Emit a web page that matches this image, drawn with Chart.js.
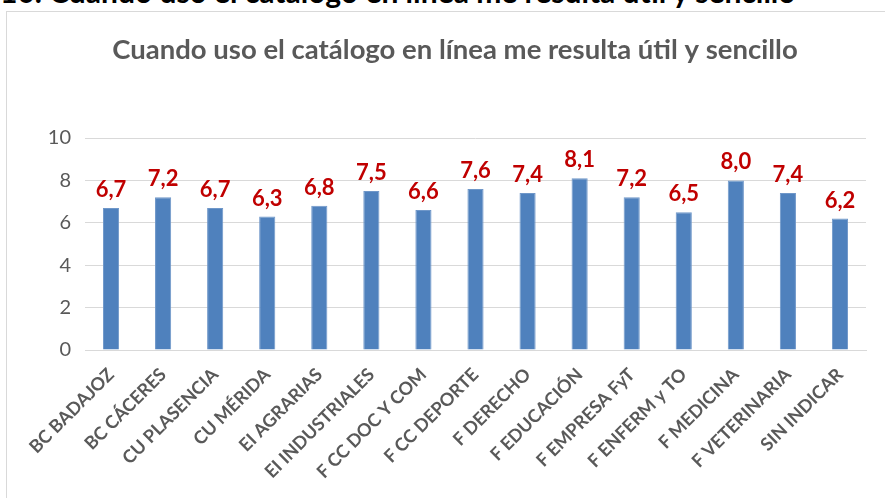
<!DOCTYPE html>
<html>
<head>
<meta charset="utf-8">
<script src="https://cdn.jsdelivr.net/npm/chart.js@4"></script>
<style>
  body { margin:0; width:885px; height:498px; overflow:hidden; background:#fff; position:relative; font-family:Lato, sans-serif; }
  #head { position:absolute; left:0; top:-24px; font:bold 30px Lato, sans-serif; line-height:30px; color:#000; white-space:nowrap; }
  #box { position:absolute; left:6px; top:11px; width:900px; height:500px; border:1px solid #d9d9d9; box-sizing:border-box; }
  #wrap { position:absolute; left:0; top:0; width:885px; height:498px; }
</style>
</head>
<body>
<div id="head">10. Cuando uso el catálogo en línea me resulta útil y sencillo</div>
<div id="box"></div>
<div id="wrap"><canvas id="chart1"></canvas></div>
<script>
var categorias = ['BC BADAJOZ','BC CÁCERES','CU PLASENCIA','CU MÉRIDA','EI AGRARIAS','EI INDUSTRIALES','F CC DOC Y COM','F CC DEPORTE','F DERECHO','F EDUCACIÓN','F EMPRESA FyT','F ENFERM y TO','F MEDICINA','F VETERINARIA','SIN INDICAR'];
var valores = [6.7, 7.2, 6.7, 6.3, 6.8, 7.5, 6.6, 7.6, 7.4, 8.1, 7.2, 6.5, 8.0, 7.4, 6.2];
var titulo = 'Cuando uso el catálogo en línea me resulta útil y sencillo';

var etiquetas = {
  id: 'etiquetas',
  afterDatasetsDraw(chart) {
    var ctx = chart.ctx;
    var meta = chart.getDatasetMeta(0);
    ctx.save();
    ctx.fillStyle = '#C00000';
    ctx.font = 'bold 22px Lato, sans-serif';
    ctx.textAlign = 'center';
    ctx.textBaseline = 'middle';
    meta.data.forEach(function(bar, i) {
      ctx.fillText(valores[i].toFixed(1).replace('.', ','), bar.x, bar.y - 18);
    });
    ctx.restore();
  }
};

new Chart(document.querySelector('#chart1'), {
  type: 'bar',
  data: {
    labels: categorias,
    datasets: [{
      data: valores,
      backgroundColor: '#4F81BD',
      borderColor: '#6f97c9',
      borderWidth: 1,
      barPercentage: 0.31,
      categoryPercentage: 1
    }]
  },
  options: {
    responsive: true,
    maintainAspectRatio: false,
    animation: false,
    layout: { padding: { left: 44, right: 19, top: 0, bottom: 0 } },
    plugins: {
      legend: { display: false },
      tooltip: { enabled: false },
      title: {
        display: true,
        text: titulo,
        color: '#595959',
        font: { family: 'Lato, sans-serif', size: 27.5, weight: 'bold' },
        padding: { top: 34, bottom: 71 }
      }
    },
    scales: {
      y: {
        min: 0,
        max: 10,
        ticks: { stepSize: 2, color: '#595959', padding: 14, font: { family: 'Lato, sans-serif', size: 20 } },
        grid: { color: '#d9d9d9', drawTicks: false },
        border: { display: false },
        afterFit: function(s) { s.width = 41; }
      },
      x: {
        ticks: { color: '#595959', minRotation: 45, maxRotation: 45, padding: 6, font: { family: 'Lato, sans-serif', size: 18, weight: 'bold' } },
        grid: { display: false },
        border: { color: '#d9d9d9', width: 1 },
        afterFit: function(s) { s.height = 148; }
      }
    }
  },
  plugins: [etiquetas]
});
</script>
</body>
</html>
